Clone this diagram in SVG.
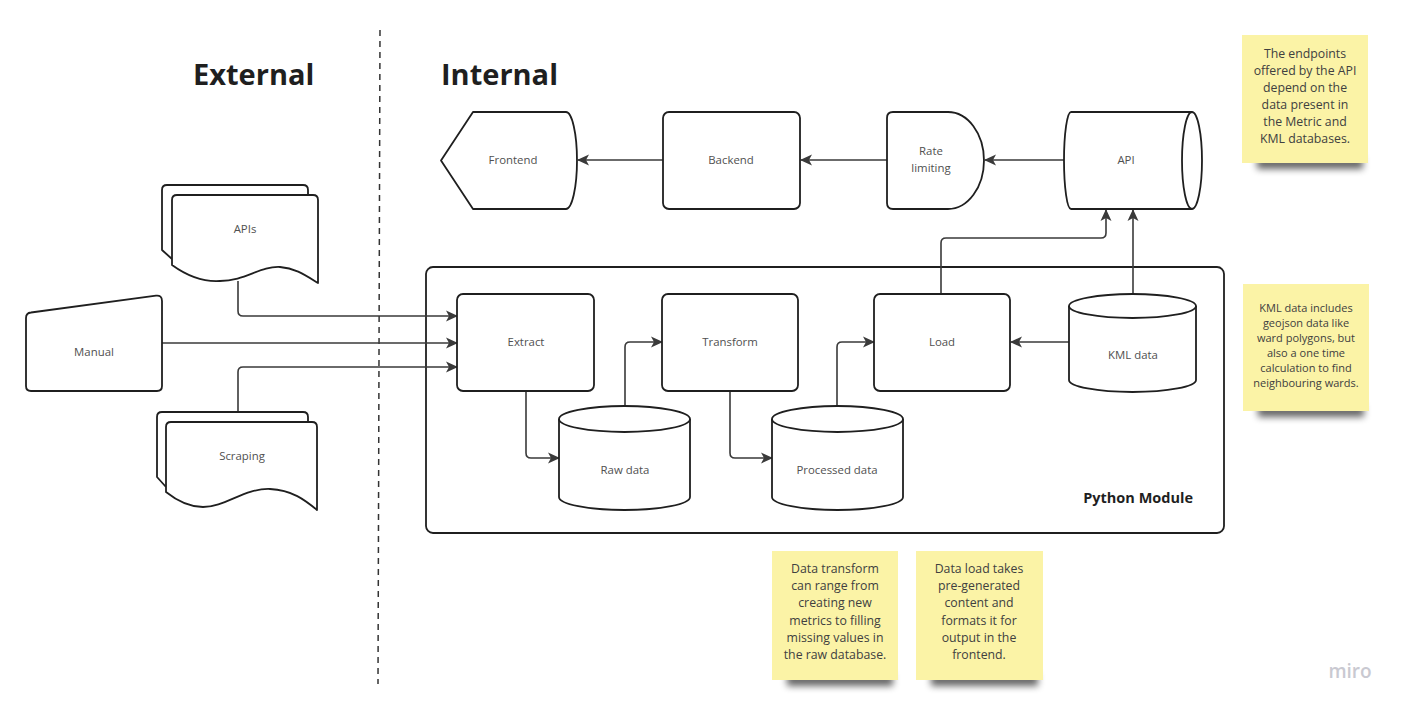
<svg xmlns="http://www.w3.org/2000/svg" width="1405" height="711" viewBox="0 0 1405 711">
<style>
.shape{fill:#fff;stroke:#1f1f1f;stroke-width:1.8;stroke-linejoin:round}
.inner{fill:none;stroke:#1f1f1f;stroke-width:1.8}
.conn{fill:none;stroke:#3a3a3a;stroke-width:1.6;stroke-linejoin:round}
.lbl{font-family:"Open Sans","Liberation Sans",sans-serif;font-size:11.4px;fill:#505050;text-anchor:middle}
.head{font-family:"Open Sans","Liberation Sans",sans-serif;font-size:29px;font-weight:700;fill:#1f1f1f}
.note{fill:#fbf3a6}
.ntxt{font-family:"Open Sans","Liberation Sans",sans-serif;font-size:12.3px;fill:#404040;text-anchor:middle}
.ntxt2{font-family:"Open Sans","Liberation Sans",sans-serif;font-size:11px;fill:#404040;text-anchor:middle}
.shadow{fill:#000;opacity:0.6;filter:url(#blur)}
</style>
<defs>
<marker id="arr" viewBox="0 0 12 12" refX="11" refY="6" markerWidth="12" markerHeight="12" markerUnits="userSpaceOnUse" orient="auto">
<path d="M0,0.5 L12,6 L0,11.5 L3,6 Z" fill="#3a3a3a"/>
</marker>
<filter id="blur" x="-20%" y="-150%" width="140%" height="400%"><feGaussianBlur stdDeviation="3.5"/></filter>
</defs>
<rect width="1405" height="711" fill="#fff"/>

<g id="headings">
<text class="head" x="193" y="85">External</text>
<text class="head" x="441" y="85">Internal</text>
</g>
<line id="divider" x1="380" y1="30" x2="378" y2="684" stroke="#333" stroke-width="1.5" stroke-dasharray="6,5"/>

<g id="python-module">
<rect class="shape" x="426" y="267" width="798" height="266" rx="7"/>
<text x="1193" y="503" font-family="'Open Sans','Liberation Sans',sans-serif" font-size="14.5" font-weight="700" fill="#1f1f1f" text-anchor="end">Python Module</text>
</g>

<g id="connectors">
<path class="conn" marker-end="url(#arr)" d="M663,160 L578,160"/>
<path class="conn" marker-end="url(#arr)" d="M887,160 L801,160"/>
<path class="conn" marker-end="url(#arr)" d="M1064,160 L985,160"/>
<path class="conn" marker-end="url(#arr)" d="M941,294 L941,243 Q941,238 946,238 L1101,238 Q1106,238 1106,233 L1106,210"/>
<path class="conn" marker-end="url(#arr)" d="M1133,294 L1133,210"/>
<path class="conn" marker-end="url(#arr)" d="M238,281 L238,311 Q238,316 243,316 L457,316"/>
<path class="conn" marker-end="url(#arr)" d="M162,343 L457,343"/>
<path class="conn" marker-end="url(#arr)" d="M238,412 L238,372 Q238,367 243,367 L457,367"/>
<path class="conn" marker-end="url(#arr)" d="M526,391 L526,453 Q526,458 531,458 L559,458"/>
<path class="conn" marker-end="url(#arr)" d="M625,406 L625,347 Q625,342 630,342 L662,342"/>
<path class="conn" marker-end="url(#arr)" d="M730,391 L730,453 Q730,458 735,458 L772,458"/>
<path class="conn" marker-end="url(#arr)" d="M837,406 L837,347 Q837,342 842,342 L874,342"/>
<path class="conn" marker-end="url(#arr)" d="M1069,342 L1011,342"/>
</g>

<g id="frontend">
<path class="shape" d="M473,112 L566,112 A11,48.5 0 0 1 566,209 L473,209 L441,160.5 Z"/>
<text class="lbl" x="513" y="164">Frontend</text>
</g>
<g id="backend">
<rect class="shape" x="663" y="112" width="137" height="97" rx="6"/>
<text class="lbl" x="731" y="164">Backend</text>
</g>
<g id="rate-limiting">
<path class="shape" d="M893,112 L948,112 A36,48.5 0 0 1 948,209 L893,209 Q887,209 887,203 L887,118 Q887,112 893,112 Z"/>
<text class="lbl" x="931" y="155">Rate</text>
<text class="lbl" x="931" y="172">limiting</text>
</g>
<g id="api">
<path class="shape" d="M1071,112 L1192,112 A10,48.5 0 0 1 1192,209 L1071,209 A7,48.5 0 0 1 1071,112 Z"/>
<path class="inner" d="M1192,112 A10,48.5 0 0 0 1192,209"/>
<text class="lbl" x="1126" y="164">API</text>
</g>

<g id="apis">
<path class="shape" d="M172,259 L162,250 L162,190 Q162,185 167,185 L303,185 Q308,185 308,190 L308,196"/>
<path class="shape" d="M177,195 L313,195 Q318,195 318,200 L318,283 C305,275 295,268 280,267 C260,266 245,281 220,281 C205,282 190,278 172,265 L172,200 Q172,195 177,195 Z"/>
<text class="lbl" x="245" y="233">APIs</text>
</g>
<g id="manual">
<path class="shape" d="M26,318 Q26,313 31,312.5 L156,295.7 Q162,295 162,301 L162,386 Q162,391 157,391 L31,391 Q26,391 26,386 Z"/>
<text class="lbl" x="94" y="356">Manual</text>
</g>
<g id="scraping">
<path class="shape" d="M166,487 L157,477 L157,417 Q157,412 162,412 L303,412 Q308,412 308,417 L308,423"/>
<path class="shape" d="M171,422 L312,422 Q317,422 317,427 L317,510 C305,500 292,490 270,489 C245,488 225,507 203,507 C188,507 176,500 166,492 L166,427 Q166,422 171,422 Z"/>
<text class="lbl" x="242" y="460">Scraping</text>
</g>

<g id="extract">
<rect class="shape" x="457" y="294" width="137" height="97" rx="6"/>
<text class="lbl" x="526" y="346">Extract</text>
</g>
<g id="transform">
<rect class="shape" x="662" y="294" width="136" height="97" rx="6"/>
<text class="lbl" x="730" y="346">Transform</text>
</g>
<g id="load">
<rect class="shape" x="874" y="294" width="136" height="97" rx="6"/>
<text class="lbl" x="942" y="346">Load</text>
</g>
<g id="raw-data">
<path class="shape" d="M559,419 A65.5,13 0 0 1 690,419 L690,497 A65.5,13 0 0 1 559,497 Z"/>
<path class="inner" d="M559,419 A65.5,13 0 0 0 690,419"/>
<text class="lbl" x="625" y="474">Raw data</text>
</g>
<g id="processed-data">
<path class="shape" d="M772,419 A65.5,13 0 0 1 903,419 L903,497 A65.5,13 0 0 1 772,497 Z"/>
<path class="inner" d="M772,419 A65.5,13 0 0 0 903,419"/>
<text class="lbl" x="837" y="474">Processed data</text>
</g>
<g id="kml-data">
<path class="shape" d="M1069,306 A63.5,12 0 0 1 1196,306 L1196,380 A63.5,12 0 0 1 1069,380 Z"/>
<path class="inner" d="M1069,306 A63.5,12 0 0 0 1196,306"/>
<text class="lbl" x="1133" y="359">KML data</text>
</g>

<g id="note-api">
<rect class="shadow" x="1257" y="157" width="106" height="12"/>
<rect class="note" x="1242" y="35" width="126" height="128"/>
<text class="ntxt" x="1305" y="58">The endpoints</text>
<text class="ntxt" x="1305" y="75">offered by the API</text>
<text class="ntxt" x="1305" y="92">depend on the</text>
<text class="ntxt" x="1305" y="109">data present in</text>
<text class="ntxt" x="1305" y="126">the Metric and</text>
<text class="ntxt" x="1305" y="143">KML databases.</text>
</g>
<g id="note-kml">
<rect class="shadow" x="1258" y="405" width="106" height="12"/>
<rect class="note" x="1243" y="284" width="126" height="127"/>
<text class="ntxt2" x="1306" y="312">KML data includes</text>
<text class="ntxt2" x="1306" y="327">geojson data like</text>
<text class="ntxt2" x="1306" y="342">ward polygons, but</text>
<text class="ntxt2" x="1306" y="357">also a one time</text>
<text class="ntxt2" x="1306" y="372">calculation to find</text>
<text class="ntxt2" x="1306" y="387">neighbouring wards.</text>
</g>
<g id="note-transform">
<rect class="shadow" x="787" y="674" width="106" height="12"/>
<rect class="note" x="772" y="551" width="126" height="129"/>
<text class="ntxt" x="835" y="573">Data transform</text>
<text class="ntxt" x="835" y="590">can range from</text>
<text class="ntxt" x="835" y="607">creating new</text>
<text class="ntxt" x="835" y="625">metrics to filling</text>
<text class="ntxt" x="835" y="642">missing values in</text>
<text class="ntxt" x="835" y="659">the raw database.</text>
</g>
<g id="note-load">
<rect class="shadow" x="931" y="674" width="107" height="12"/>
<rect class="note" x="916" y="551" width="127" height="129"/>
<text class="ntxt" x="979" y="573">Data load takes</text>
<text class="ntxt" x="979" y="590">pre-generated</text>
<text class="ntxt" x="979" y="607">content and</text>
<text class="ntxt" x="979" y="625">formats it for</text>
<text class="ntxt" x="979" y="642">output in the</text>
<text class="ntxt" x="979" y="659">frontend.</text>
</g>

<text id="miro" x="1350" y="678" font-family="'Open Sans','Liberation Sans',sans-serif" font-size="19" font-weight="600" fill="#c9c9d1" text-anchor="middle">miro</text>
</svg>
